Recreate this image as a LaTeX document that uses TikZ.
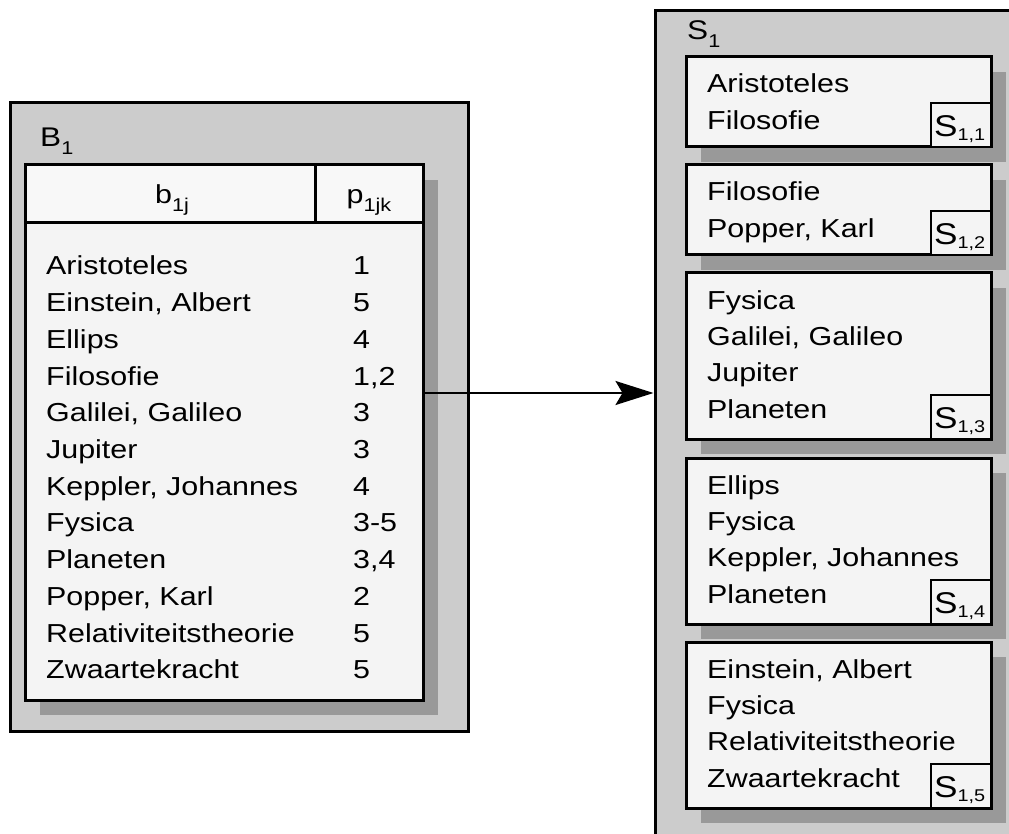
\documentclass[tikz,border=0pt]{standalone}
\usepackage{fontspec}
\setmainfont{Liberation Sans}[FakeStretch=1.17]
\usetikzlibrary{arrows.meta,shadows}

\definecolor{panelgray}{gray}{0.80}
\definecolor{shadowgray}{gray}{0.60}
\definecolor{boxfill}{gray}{0.955}
\definecolor{headfill}{gray}{0.972}

% lowered index: #1 = drop below baseline, #2 = index text
\newcommand\lowidx[2]{\raisebox{-#1}{\fontsize{18.5}{18.5}\selectfont #2}}
% smaller index used inside the card tags
\newcommand\tagidx[1]{\raisebox{-4pt}{\fontsize{17}{17}\selectfont #1}}

% one result card of the S_1 column: name, top, height, index, lines
\newcommand\resultcard[5]{%
  \node[card, minimum width=305, minimum height=#3] (#1) at (686,#2) {};
  \node[tagbox] (#1tag) at (#1.south east) {};
  \node[tagtxt] (#1lbl) at ([shift={(3,-10.5)}]#1tag.south west) {S\tagidx{1,#4}};
  \foreach \t [count=\k from 0] in {#5}
    \node[txt] (#1line\k) at (707,#2+36+36.4*\k) {\t};
}

\begin{document}
\begin{tikzpicture}[x=1pt,y=-1pt,
  panel/.style={draw, line width=3pt, fill=panelgray, anchor=north west,
    inner sep=0, outer sep=0},
  card/.style={draw, line width=3pt, fill=boxfill, anchor=north west,
    inner sep=0, outer sep=0,
    drop shadow={shadow xshift=15pt, shadow yshift=-15pt, fill=shadowgray, opacity=1}},
  head/.style={draw, line width=3pt, fill=headfill, anchor=north west,
    inner sep=0, outer sep=0},
  tagbox/.style={draw, line width=2.5pt, fill=boxfill, anchor=south east,
    minimum width=60, minimum height=44, inner sep=0, outer sep=0},
  txt/.style={anchor=base west, inner sep=0, font=\fontsize{26}{30}\selectfont},
  ctxt/.style={anchor=base, inner sep=0, font=\fontsize{26}{30}\selectfont},
  label/.style={anchor=base west, inner sep=0, font=\fontsize{27}{30}\selectfont},
  tagtxt/.style={anchor=base west, inner sep=0, font=\fontsize{30}{32}\selectfont},
  link/.style={line width=2.2pt, -{Stealth[length=38pt,width=24pt,inset=7pt]}}
]
\useasboundingbox (0,0) rectangle (1009,834);
\clip (0,0) rectangle (1009,834);
\fill[white] (0,0) rectangle (1009,834);

% ---- left: the index B_1 ----
\node[panel, minimum width=458, minimum height=628] (bpanel) at (10,103) {};
\node[label] (blabel) at (40,147) {B\lowidx{8pt}{1}};

\node[card, minimum width=398, minimum height=535] (tbl) at (25,165) {};
\node[head, minimum width=290, minimum height=58] (hb) at (25,165) {};
\node[head, minimum width=108, minimum height=58] (hp) at (315,165) {};
\node[ctxt] (hbt) at (172,204) {b\lowidx{8pt}{1j}};
\node[ctxt] (hpt) at (369,204) {p\lowidx{8pt}{1jk}};

\foreach \nm/\pg [count=\i from 0] in {Aristoteles/1, {Einstein, Albert}/5,
    Ellips/4, Filosofie/{1,2}, {Galilei, Galileo}/3, Jupiter/3,
    {Keppler, Johannes}/4, Fysica/{3-5}, Planeten/{3,4}, {Popper, Karl}/2,
    Relativiteitstheorie/5, Zwaartekracht/5}
{
  \node[txt] (entry\i) at (46,275+36.7*\i) {\nm};
  \node[txt] (page\i) at (353,275+36.7*\i) {\pg};
}

% ---- right: the result set S_1 ----
\node[panel, minimum width=400, minimum height=850] (spanel) at (655,11) {};
\node[label] (slabel) at (687,40) {S\lowidx{8pt}{1}};

\resultcard{sa}{57}{90}{1}{Aristoteles, Filosofie}
\resultcard{sb}{165}{90}{2}{Filosofie, {Popper, Karl}}
\resultcard{sc}{273}{166}{3}{Fysica, {Galilei, Galileo}, Jupiter, Planeten}
\resultcard{sd}{458}{166}{4}{Ellips, Fysica, {Keppler, Johannes}, Planeten}
\resultcard{se}{642}{166}{5}{{Einstein, Albert}, Fysica, Relativiteitstheorie, Zwaartekracht}

% ---- connector ----
\coordinate (arrowy) at (0,393);
\draw[link, shorten >=1.5pt] (tbl.east |- arrowy) -- (spanel.west |- arrowy);
\end{tikzpicture}
\end{document}
